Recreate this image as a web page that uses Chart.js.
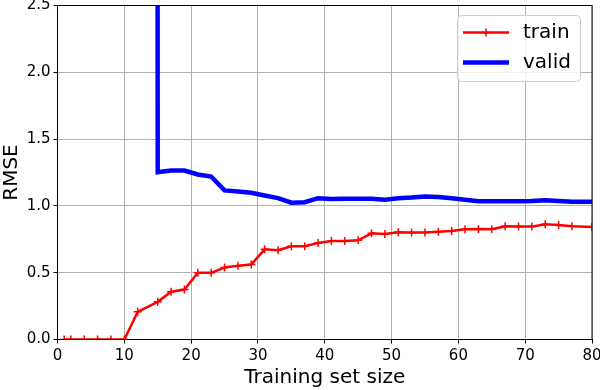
<!DOCTYPE html>
<html>
<head>
<meta charset="utf-8">
<script src="https://cdn.jsdelivr.net/npm/chart.js@4/dist/chart.umd.min.js"></script>
<style>
  html, body { margin: 0; padding: 0; background: #fff; }
  #wrap { width: 600px; height: 390px; }
</style>
</head>
<body>
<div id="wrap"><canvas id="graphCanvas" width="600" height="390"></canvas></div>
<script>
// training set sizes
const sizes = [1, 2, 4, 6, 8, 10, 12, 15, 17, 19, 21, 23, 25, 27, 29, 31, 33, 35, 37, 39,
               41, 43, 45, 47, 49, 51, 53, 55, 57, 59, 61, 63, 65, 67, 69, 71, 73, 75, 77, 80];
// train RMSE
const trainErr = [0, 0, 0, 0, 0, 0, 0.207, 0.282, 0.357, 0.374, 0.499, 0.499, 0.539, 0.552, 0.561, 0.675,
                  0.668, 0.698, 0.698, 0.723, 0.737, 0.737, 0.743, 0.795, 0.790, 0.802, 0.800, 0.800, 0.807, 0.812,
                  0.825, 0.827, 0.825, 0.847, 0.845, 0.845, 0.862, 0.857, 0.847, 0.842];
// validation RMSE (first points are far above the plot)
const validErr = [3.1, 4.8, 12.5, 35.0, 8.3, 60.2, 210.0, 1.252, 1.265, 1.265, 1.235, 1.22, 1.116, 1.108, 1.099, 1.078,
                  1.058, 1.024, 1.028, 1.058, 1.051, 1.054, 1.054, 1.054, 1.046, 1.058, 1.063, 1.071, 1.066, 1.058,
                  1.046, 1.034, 1.034, 1.034, 1.034, 1.036, 1.043, 1.036, 1.031, 1.031];
const xTicks = [0, 10, 20, 30, 40, 50, 60, 70, 80];
const yTicks = [0.0, 0.5, 1.0, 1.5, 2.0, 2.5];

const FONT = "'DejaVu Sans', sans-serif";

// frame + legend drawn like matplotlib
const framePlugin = {
    id: 'frame',
    afterDatasetsDraw(chart) {
        const { ctx, chartArea: a } = chart;
        ctx.save();
        ctx.strokeStyle = '#000';
        ctx.lineWidth = 1;
        ctx.strokeRect(a.left, a.top, a.right - a.left, a.bottom - a.top);

        // legend box
        const bx = 457.5, by = 15.5, bw = 123, bh = 66;
        ctx.beginPath();
        ctx.roundRect(bx, by, bw, bh, 4);
        ctx.fillStyle = 'rgba(255,255,255,0.8)';
        ctx.fill();
        ctx.strokeStyle = '#cccccc';
        ctx.stroke();

        const rows = [32.5, 62.5];
        chart.data.datasets.forEach(function (ds, i) {
            const y = rows[i];
            ctx.beginPath();
            ctx.moveTo(463, y);
            ctx.lineTo(509, y);
            ctx.strokeStyle = ds.borderColor;
            ctx.lineWidth = ds.borderWidth;
            ctx.stroke();
            if (ds.pointStyle === 'cross') {
                ctx.beginPath();
                ctx.moveTo(486, y - 4);
                ctx.lineTo(486, y + 4);
                ctx.moveTo(482, y);
                ctx.lineTo(490, y);
                ctx.lineWidth = 1.5;
                ctx.stroke();
            }
            ctx.fillStyle = '#000';
            ctx.font = '20px ' + FONT;
            ctx.textBaseline = 'middle';
            ctx.fillText(ds.label, 523, y);
        });
        ctx.restore();
    }
};

const ctx = document.getElementById('graphCanvas').getContext('2d');
const myChart = new Chart(ctx, {
    type: 'line',
    data: {
        datasets: [{
            label: 'train',
            data: sizes.map((s, i) => ({ x: s, y: trainErr[i] })),
            borderColor: '#ff0000',
            backgroundColor: '#ff0000',
            borderWidth: 2.5,
            pointStyle: 'cross',
            pointRadius: 4,
            pointBorderWidth: 1.5,
            pointBorderColor: '#ff0000',
            tension: 0,
            clip: 0
        }, {
            label: 'valid',
            data: sizes.map((s, i) => ({ x: s, y: validErr[i] })),
            borderColor: '#0000ff',
            backgroundColor: '#0000ff',
            borderWidth: 4.5,
            pointRadius: 0,
            tension: 0,
            clip: 0
        }]
    },
    plugins: [framePlugin],
    options: {
        responsive: false,
        animation: false,
        layout: { padding: { left: 0, right: 8, top: 5, bottom: 0 } },
        plugins: {
            legend: { display: false },
            tooltip: { enabled: false }
        },
        scales: {
            x: {
                type: 'linear',
                min: 0,
                max: 80,
                afterBuildTicks: (scale) => { scale.ticks = xTicks.map(v => ({ value: v })); },
                afterFit: (scale) => {
                    scale.height = 50.5;
                    scale.paddingLeft = 0;
                    scale.paddingRight = 0;
                },
                grid: { color: '#b0b0b0', lineWidth: 1, tickColor: '#000', tickLength: 4 },
                border: { color: '#000', width: 1 },
                ticks: { color: '#000', font: { family: FONT, size: 15 }, padding: 4, maxRotation: 0 },
                title: { display: true, text: 'Training set size', color: '#000', font: { family: FONT, size: 20 }, padding: { top: 0, bottom: 0 } }
            },
            y: {
                type: 'linear',
                min: 0,
                max: 2.5,
                afterBuildTicks: (scale) => { scale.ticks = yTicks.map(v => ({ value: v })); },
                afterFit: (scale) => {
                    scale.width = 57.5;
                    scale.paddingTop = 0;
                    scale.paddingBottom = 0;
                },
                grid: { color: '#b0b0b0', lineWidth: 1, tickColor: '#000', tickLength: 4 },
                border: { color: '#000', width: 1 },
                ticks: { color: '#000', font: { family: FONT, size: 15 }, padding: 3, callback: v => v.toFixed(1) },
                title: { display: true, text: 'RMSE', color: '#000', font: { family: FONT, size: 20 }, padding: { top: 0, bottom: 0 } }
            }
        }
    }
});
</script>
</body>
</html>
